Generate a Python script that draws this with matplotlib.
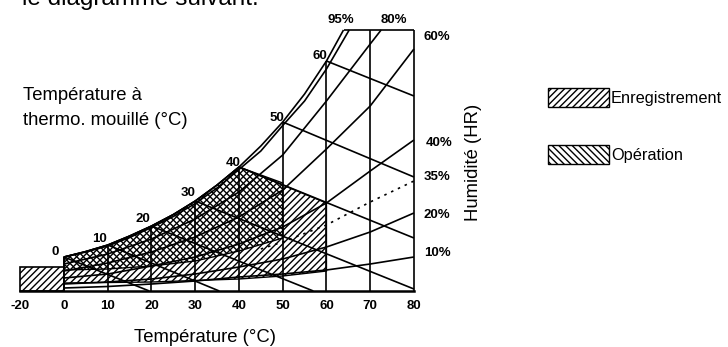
import numpy as np
import matplotlib
matplotlib.use("Agg")
import matplotlib.pyplot as plt
from matplotlib.patches import Patch, Polygon

plt.rcParams["font.family"] = ["Liberation Sans", "DejaVu Sans"]
plt.rcParams["hatch.linewidth"] = 1.0

# Saturation (100%) and 95% curves: temperature (C) vs chart height
sat_t = [0, 5, 10, 15, 20, 25, 30, 35, 40, 45, 50, 55, 60, 63.9]
sat_h = [34, 39.5, 46, 55, 65, 76.5, 90, 106, 124, 145, 169, 197, 230, 261]
rh95_t = [0, 5, 10, 15, 20, 25, 30, 35, 40, 45, 50, 55, 60, 65.2]
rh95_h = [34, 39, 45, 53.5, 63.5, 74.5, 87.5, 103, 121.5, 140, 165.5, 190, 222, 261]

# Other relative humidity curves
rh_t = [0, 10, 20, 30, 40, 50, 60, 70, 80]
rh80_t = [0, 10, 20, 30, 40, 50, 60, 70, 72.5]
rh80_h = [27, 37, 52, 72, 99, 136, 190, 247, 261]
rh60_h = [20, 28, 39, 54, 74, 101, 142, 185, 242]
rh40_h = [13, 17, 25, 34, 47, 64, 88, 120, 151]
rh20_h = [7, 9, 12, 17, 24, 32, 44, 59, 78]
rh10_h = [3, 4.5, 7, 10, 14, 17, 21, 27, 34]
rh35_t = [45, 50, 60, 70, 80]
rh35_h = [42, 49, 66, 89, 110]

# Wet bulb lines (start on saturation curve, end on border)
wb_labels = ["0", "10", "20", "30", "40", "50", "60"]
wb_t0 = [0, 10, 20, 30, 40, 50, 60]
wb_h0 = [34, 46, 65, 90, 124, 169, 230]
wb_t1 = [19.5, 35.5, 57, 80, 80, 80, 80]
wb_h1 = [0, 0, 0, 2, 53, 114, 195]

# Vertical grid lines
grid_t = [0, 10, 20, 30, 40, 50, 60, 70]
grid_top = [34, 46, 65, 90, 124, 169, 230, 261]
top_h = 261

x_ticks = [-20, 0, 10, 20, 30, 40, 50, 60, 70, 80]

# Storage region (Enregistrement)
stor_rect_t = [-20, 0, 0, -20]
stor_rect_h = [0, 0, 24, 24]
stor_low_t = [0, 20, 40, 50, 60]
stor_low_h = [8, 9, 12, 15, 20]
stor_right_h = 88
# Operation region (Opération)
op_low_t = [0, 10, 20, 30, 40, 50]
op_low_h = [21, 22, 25, 30, 40, 53]
op_right_h = 108


def fwd(t):
    t = np.asarray(t, dtype=float)
    return np.where(t < 0, t / 2, t)


def inv(p):
    p = np.asarray(p, dtype=float)
    return np.where(p < 0, p * 2, p)


fig = plt.figure(figsize=(7.28, 3.47), dpi=100)
ax = fig.add_axes([0, 0, 1, 1])
ax.set_xscale("function", functions=(fwd, inv))
ax.set_xlim(-29.26, 151.8)
ax.set_ylim(-56, 291)
ax.axis("off")

# hatched regions
n40 = sat_t.index(40)
top_t = sat_t[:n40 + 1][::-1]
top_hh = sat_h[:n40 + 1][::-1]
stor_pts = (list(zip(stor_low_t, stor_low_h)) + [(60, stor_right_h)]
            + list(zip(top_t, top_hh)))
op_pts = (list(zip(op_low_t, op_low_h)) + [(50, op_right_h)]
          + list(zip(top_t, top_hh)))
ax.add_patch(Polygon(list(zip(stor_rect_t, stor_rect_h)), closed=True,
                     facecolor="white", edgecolor="black", hatch="/////", lw=1.2))
ax.add_patch(Polygon(stor_pts, closed=True, facecolor="white",
                     edgecolor="black", hatch="/////", lw=1.0))
ax.add_patch(Polygon(op_pts, closed=True, facecolor="none",
                     edgecolor="black", hatch="\\\\\\\\\\", lw=1.0))

lk = dict(color="black", lw=1.2, solid_capstyle="butt")
# frame
ax.plot([-20, 80], [0, 0], color="black", lw=1.8)
ax.plot([80, 80], [0, top_h], **lk)
ax.plot([sat_t[-1], 80], [top_h, top_h], **lk)
for t, h in zip(grid_t, grid_top):
    ax.plot([t, t], [0, h], **lk)

# humidity curves
ax.plot(sat_t, sat_h, **lk)
ax.plot(rh95_t, rh95_h, **lk)
ax.plot(rh80_t, rh80_h, **lk)
ax.plot(rh_t, rh60_h, **lk)
ax.plot(rh_t, rh40_h, **lk)
ax.plot(rh_t, rh20_h, **lk)
ax.plot(rh_t, rh10_h, **lk)
ax.plot(rh35_t, rh35_h, color="black", lw=1.2, linestyle=(0, (1.5, 3)))

# wet bulb lines
for t0, h0, t1, h1 in zip(wb_t0, wb_h0, wb_t1, wb_h1):
    ax.plot([t0, t1], [h0, h1], **lk)

lab = dict(fontsize=9.5, fontweight="bold", ha="center", va="center")
for t in x_ticks:
    ax.text(t, -15, str(t), **lab)

wb_lab_t = [-4.2, 8.2, 18.1, 28.3, 38.6, 48.7, 58.5]
wb_lab_h = [39, 52, 72, 98, 128, 173, 235]
for s, t, h in zip(wb_labels, wb_lab_t, wb_lab_h):
    ax.text(t, h, s, **lab)

rh_labels = ["95%", "80%", "60%", "40%", "35%", "20%", "10%"]
rh_lab_t = [63.3, 75.4, 85.3, 85.7, 85.3, 85.3, 85.3]
rh_lab_h = [271, 271, 254, 148, 114, 76, 38]
for s, t, h in zip(rh_labels, rh_lab_t, rh_lab_h):
    ax.text(t, h, s, **lab)

fig.text(22 / 728, 1 - 5 / 347, "le diagramme suivant.", fontsize=17.5, va="baseline")
fig.text(23 / 728, 1 - 96 / 347, "Température à", fontsize=13.3, va="center")
fig.text(23 / 728, 1 - 120 / 347, "thermo. mouillé (°C)", fontsize=13.3, va="center")
fig.text(205 / 728, 1 - 338 / 347, "Température (°C)", fontsize=13.3,
         ha="center", va="center")
fig.text(473 / 728, 1 - 162 / 347, "Humidité (HR)", fontsize=13.3, rotation=90,
         ha="center", va="center")

handles = [Patch(facecolor="white", edgecolor="black", hatch="/////"),
           Patch(facecolor="white", edgecolor="black", hatch="\\\\\\\\\\")]
fig.legend(handles, ["Enregistrement", "Opération"], loc="upper left",
           bbox_to_anchor=(548 / 728, 1 - 88 / 347), frameon=False,
           fontsize=11.8, handlelength=3.75, handleheight=1.4,
           labelspacing=2.3, handletextpad=0.1, borderpad=0, borderaxespad=0)

fig.savefig("out.png", dpi=100)
